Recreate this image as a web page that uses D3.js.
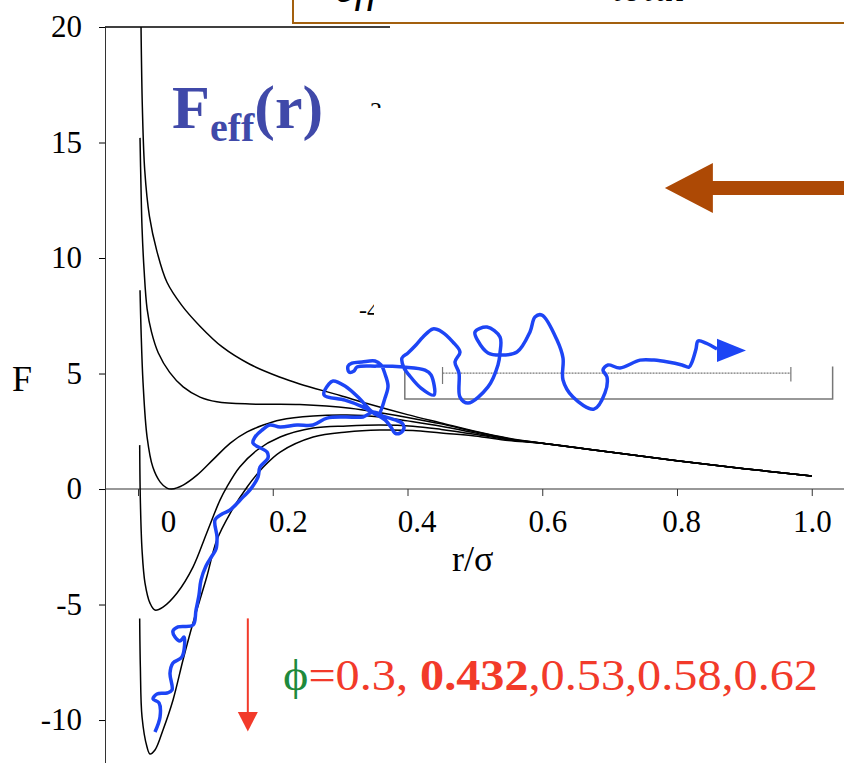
<!DOCTYPE html>
<html>
<head>
<meta charset="utf-8">
<script src="https://cdn.jsdelivr.net/npm/d3@7"></script>
<style>
body { margin: 0; background: #fff; }
svg { display: block; font-family: "Liberation Serif", "Times New Roman", serif; }
</style>
</head>
<body>
<div id="vis"></div>
<script>
// packing fractions shown in the legend text
var phiValues = ["0.3", "0.432", "0.53", "0.58", "0.62"];

// F_eff(r) curves, [r/sigma, F]
var curve030 = [[0.0045,20],[0.0065,16.5],[0.010,13.8],[0.017,11.8],[0.028,10.3],[0.043,8.95],[0.065,7.95],
  [0.092,7.05],[0.125,6.15],[0.166,5.4],[0.21,4.85],[0.24,4.55],[0.30,4.05],[0.34,3.7],[0.40,3.22],
  [0.45,2.86],[0.50,2.5],[0.55,2.2],[0.6,1.98],[0.7,1.6],[0.8,1.22],[0.9,0.88],[1.0,0.56]];
var curve0432 = [[0.003,15.2],[0.0045,13.0],[0.006,11.3],[0.009,9.5],[0.0135,7.8],[0.02,6.8],[0.03,5.9],
  [0.047,5.05],[0.067,4.42],[0.092,3.98],[0.117,3.78],[0.166,3.68],[0.24,3.66],[0.315,3.5],[0.364,3.28],
  [0.40,3.1],[0.45,2.82],[0.5,2.48],[0.55,2.18],[0.6,1.98],[0.7,1.6],[0.8,1.22],[0.9,0.88],[1.0,0.56]];
var curve053 = [[0.003,8.6],[0.0045,6.9],[0.0075,4.6],[0.0135,2.25],[0.022,0.95],[0.033,0.3],[0.043,0.04],
  [0.05,0],[0.067,0.17],[0.088,0.61],[0.111,1.26],[0.137,1.99],[0.162,2.47],[0.186,2.77],[0.211,2.99],
  [0.26,3.16],[0.31,3.2],[0.359,3.12],[0.40,2.95],[0.45,2.72],[0.5,2.43],[0.55,2.16],[0.6,1.98],
  [0.7,1.6],[0.8,1.22],[0.9,0.88],[1.0,0.56]];
var curve058 = [[0.0025,1.9],[0.0035,-0.5],[0.006,-2.64],[0.0104,-4.07],[0.0178,-4.94],[0.0252,-5.24],
  [0.0371,-5.11],[0.058,-4.5],[0.0816,-3.38],[0.102,-1.9],[0.1217,-0.48],[0.132,0.09],[0.151,0.95],
  [0.177,1.69],[0.211,2.25],[0.26,2.64],[0.31,2.73],[0.359,2.77],[0.408,2.72],[0.45,2.58],[0.5,2.37],
  [0.55,2.13],[0.6,1.98],[0.7,1.6],[0.8,1.22],[0.9,0.88],[1.0,0.56]];
var curve062 = [[0.0025,-5.6],[0.0035,-7.7],[0.006,-9.87],[0.0134,-11.17],[0.0178,-11.47],[0.0252,-11.3],
  [0.0371,-10.43],[0.052,-9.13],[0.0668,-7.4],[0.0816,-5.8],[0.102,-3.81],[0.117,-2.21],[0.137,-1.04],
  [0.162,0.09],[0.186,0.95],[0.211,1.6],[0.26,2.25],[0.31,2.47],[0.359,2.55],[0.408,2.53],[0.45,2.42],
  [0.5,2.3],[0.55,2.1],[0.6,1.98],[0.7,1.6],[0.8,1.22],[0.9,0.88],[1.0,0.56]];

// hand drawn random walk over the landscape, [r/sigma, F]
var walk = [[0.0252,-10.52],[0.0327,-9.87],[0.0312,-9.26],[0.0223,-9.09],[0.0282,-8.87],[0.043,-8.83],
  [0.0505,-8.7],[0.0475,-7.97],[0.0519,-7.53],[0.0653,-7.27],[0.0683,-6.41],[0.0623,-6.58],[0.0549,-6.41],
  [0.0519,-6.15],[0.0594,-5.97],[0.0816,-5.89],[0.0861,-5.24],[0.0905,-4.59],[0.0935,-3.94],[0.1009,-3.33],
  [0.1098,-2.9],[0.1158,-2.6],[0.1173,-2.08],[0.1143,-1.34],[0.1247,-1.08],[0.1366,-0.91],[0.1558,-0.35],
  [0.1662,-0.04],[0.1781,0.52],[0.1811,0.95],[0.1929,1.34],[0.1915,1.6],[0.1707,1.99],[0.1737,2.25],
  [0.184,2.55],[0.1959,2.77],[0.2108,2.68],[0.236,2.77],[0.2597,2.77],[0.2805,3.07],[0.3072,3.12],
  [0.334,3.12],[0.3488,3.33],[0.3636,3.16],[0.3814,2.99],[0.3918,2.86],[0.3948,2.64],[0.3889,2.42],
  [0.3814,2.42],[0.3755,2.68],[0.3666,2.99],[0.3518,3.25],[0.331,3.59],[0.3072,3.85],[0.2761,4.07],
  [0.2835,4.55],[0.2894,4.68],[0.3072,4.46],[0.328,3.94],[0.3458,3.38],[0.3562,3.2],[0.3666,3.94],
  [0.3711,4.46],[0.3666,4.98],[0.3607,5.37],[0.3518,5.54],[0.3325,5.5],[0.3176,5.45],[0.3117,5.32],
  [0.3132,5.06],[0.3206,5.11],[0.325,5.28],[0.3532,5.32],[0.3948,5.28],[0.426,5.15],[0.4349,4.94],
  [0.4393,4.07],[0.42,4.37],[0.4022,4.94],[0.3948,5.24],[0.3918,5.67],[0.4007,5.89],[0.4111,6.19],
  [0.423,6.58],[0.4378,6.93],[0.4512,6.8],[0.4675,6.36],[0.4779,5.93],[0.4705,5.5],[0.4764,5.02],
  [0.4779,3.98],[0.4898,3.72],[0.5195,4.42],[0.5343,5.37],[0.5373,5.89],[0.5373,6.58],[0.518,7.01],
  [0.5002,6.8],[0.5046,6.41],[0.5195,5.89],[0.5373,5.8],[0.5625,5.93],[0.5818,6.8],[0.5892,7.45],
  [0.5996,7.53],[0.6219,6.45],[0.6308,5.67],[0.6308,4.72],[0.6456,3.98],[0.6768,3.46],[0.6931,4.16],
  [0.6961,4.85],[0.6902,5.15],[0.6976,5.37],[0.7154,5.24],[0.7451,5.58],[0.7659,5.58],[0.7866,5.5],
  [0.8074,5.37],[0.8178,5.28],[0.8223,5.5],[0.8282,6.06],[0.8312,6.41],[0.843,6.32],[0.8594,6.06]];
var walkHead = [[0.8594,6.5],[0.8594,5.5],[0.9024,6.0]];

var yTicks = [-10, -5, 0, 5, 10, 15, 20];
var xTicks = [0, 0.2, 0.4, 0.6, 0.8, 1.0];
var xTickLabels = ["0", "0.2", "0.4", "0.6", "0.8", "1.0"];

var width = 844, height = 763;

var svg = d3.select("#vis").append("svg")
  .attr("width", width)
  .attr("height", height);

var x = d3.scaleLinear().domain([0, 1]).range([138, 811.75]);
var y = d3.scaleLinear().domain([-11.86, 20]).range([763, 27]);
var axisX = 105;

// axes
var yAxis = svg.append("g")
  .attr("transform", "translate(" + axisX + ",0)")
  .call(d3.axisLeft(y).tickValues(yTicks).tickSize(6).tickSizeOuter(0).tickPadding(17)
    .tickFormat(function(d) { return String(d); }));
yAxis.select(".domain").attr("stroke", "#333");
yAxis.selectAll("text").attr("font-size", 31).attr("font-family", "Liberation Serif").attr("fill", "#000");

// frame line along F = 20 and the zero axis
svg.append("line")
  .attr("x1", axisX).attr("x2", width)
  .attr("y1", y(20)).attr("y2", y(20))
  .attr("stroke", "#000").attr("stroke-width", 1.5);

var xAxis = svg.append("g")
  .attr("transform", "translate(0," + y(0) + ")")
  .call(d3.axisBottom(x).tickValues(xTicks).tickSize(7).tickSizeOuter(0)
    .tickFormat(function(d, i) { return xTickLabels[i]; }));
xAxis.select(".domain").remove();
xAxis.selectAll("line").attr("stroke", "#333");
var labelNudge = [30, 15, 9, 5, 4, 0];
xAxis.selectAll("text")
  .attr("font-size", 31).attr("font-family", "Liberation Serif").attr("fill", "#000")
  .attr("y", 21)
  .attr("dx", function(d, i) { return labelNudge[i]; });
svg.append("line")
  .attr("x1", axisX).attr("x2", width)
  .attr("y1", y(0)).attr("y2", y(0))
  .attr("stroke", "#333").attr("stroke-width", 1.2);

svg.append("text").attr("x", 12).attr("y", 391)
  .attr("font-size", 36).text("F");
svg.append("text").attr("x", 452).attr("y", 571)
  .attr("font-size", 36).text("r/σ");

// free energy curves
var line = d3.line()
  .x(function(d) { return x(d[0]); })
  .y(function(d) { return y(d[1]); })
  .curve(d3.curveCatmullRom.alpha(0.5));

svg.append("g").selectAll("path")
  .data([curve030, curve0432, curve053, curve058, curve062])
  .join("path")
  .attr("d", line)
  .attr("fill", "none")
  .attr("stroke", "#000")
  .attr("stroke-width", 1.5);

// bits of text that peek out from behind the white panel
svg.append("text").attr("x", 370).attr("y", 118).attr("font-size", 24).text("2");
svg.append("text").attr("x", 359).attr("y", 318).attr("font-size", 24).text("-4");
svg.append("path")
  .attr("d", "M390,24H844V362H374V295H370V108H390Z")
  .attr("fill", "#fff");

// title box cut by the top of the slide
svg.append("rect")
  .attr("x", 293).attr("y", -10).attr("width", 560).attr("height", 33)
  .attr("fill", "#fff").attr("stroke", "#a3600e").attr("stroke-width", 2);
svg.append("text").attr("x", 335).attr("y", 2)
  .attr("font-size", 44).attr("font-style", "italic").text("eff");
svg.append("text").attr("x", 612).attr("y", 1)
  .attr("font-size", 40).attr("font-style", "italic").text("total");

// brown arrow pointing left
var bTip = [0.782, 13.03];
var bx = x(bTip[0]), by = y(bTip[1]);
svg.append("path")
  .attr("d", "M" + bx + "," + by + "L" + (bx + 48) + "," + (by - 25) + "L" + (bx + 48) + "," + (by - 7)
    + "L" + width + "," + (by - 7) + "L" + width + "," + (by + 7) + "L" + (bx + 48) + "," + (by + 7)
    + "L" + (bx + 48) + "," + (by + 25) + "Z")
  .attr("fill", "#ad4905");

// grey brackets (scale bars)
var grey = "#777";
svg.append("path")
  .attr("d", "M" + x(0.396) + "," + y(5.3) + "V" + y(3.9) + "H" + x(1.031) + "V" + y(5.3))
  .attr("fill", "none").attr("stroke", grey).attr("stroke-width", 1.5);
svg.append("path")
  .attr("d", "M" + x(0.452) + "," + y(5.02) + "H" + x(0.969))
  .attr("fill", "none").attr("stroke", grey).attr("stroke-width", 1.2).attr("stroke-dasharray", "2,1");
svg.append("path")
  .attr("d", "M" + x(0.452) + "," + y(5.28) + "V" + y(4.55) + "M" + x(0.969) + "," + y(5.28) + "V" + y(4.65))
  .attr("fill", "none").attr("stroke", grey).attr("stroke-width", 1.2);

// the walk
svg.append("path")
  .datum(walk)
  .attr("d", line)
  .attr("fill", "none")
  .attr("stroke", "#1d45f5")
  .attr("stroke-width", 3.5)
  .attr("stroke-linejoin", "round");
svg.append("path")
  .datum(walkHead)
  .attr("d", d3.line().x(function(d) { return x(d[0]); }).y(function(d) { return y(d[1]); }))
  .attr("fill", "#1d45f5");

// Feff(r) label
var lab = svg.append("text").attr("x", 172).attr("y", 128)
  .attr("fill", "#4049a9").attr("font-weight", "bold").attr("font-size", 62);
lab.append("tspan").text("F");
lab.append("tspan").attr("font-size", 40).attr("dy", 13).text("eff");
lab.append("tspan").attr("dy", -13).text("(r)");

// red arrow and phi values
var aR = 0.163;
svg.append("line")
  .attr("x1", x(aR)).attr("x2", x(aR))
  .attr("y1", y(-5.6)).attr("y2", y(-9.7))
  .attr("stroke", "#f23a2a").attr("stroke-width", 2);
svg.append("path")
  .attr("d", "M" + (x(aR) - 10) + "," + y(-9.65) + "H" + (x(aR) + 10) + "L" + x(aR) + "," + y(-10.5) + "Z")
  .attr("fill", "#f23a2a");

var phi = svg.append("text").attr("x", 283).attr("y", 690)
  .attr("font-size", 44).attr("fill", "#f23a2a")
  .attr("textLength", 535).attr("lengthAdjust", "spacingAndGlyphs");
phi.append("tspan").attr("fill", "#1e8a3c").text("ϕ");
phi.append("tspan").text("=");
phiValues.forEach(function(v, i) {
  var t = phi.append("tspan").text(v);
  if (v === "0.432") t.attr("font-weight", "bold");
  if (i < phiValues.length - 1) phi.append("tspan").text(i === 0 ? ", " : ",");
});
</script>
</body>
</html>
